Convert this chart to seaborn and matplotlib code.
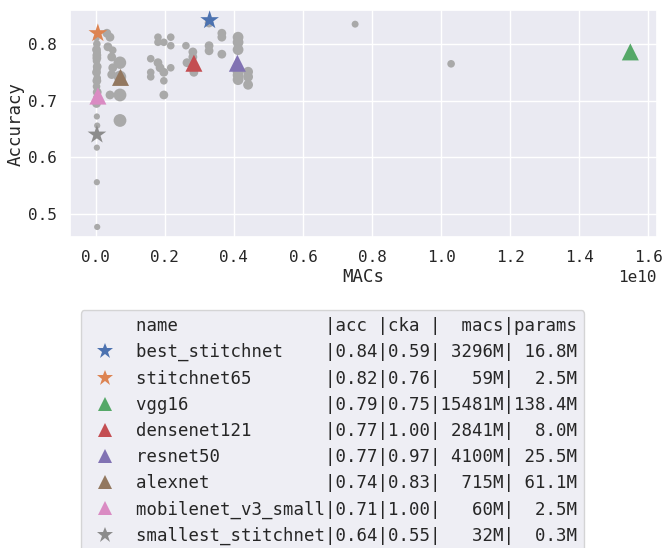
import numpy as np
import pandas as pd
import matplotlib
matplotlib.use("Agg")
import matplotlib.pyplot as plt
from matplotlib.lines import Line2D
import seaborn as sns

# ---- gray candidate networks (MACs in units of 1e10, accuracy, relative size) ----
gray_macs = [0.002, 0.003, 0.002, 0.004, 0.003, 0.002, 0.004, 0.003, 0.002, 0.004,
             0.003, 0.002, 0.004, 0.003, 0.002, 0.003, 0.004, 0.003, 0.003, 0.004, 0.003,
             0.032, 0.041, 0.035, 0.049, 0.046, 0.064, 0.070, 0.049, 0.046, 0.070, 0.041,
             0.070, 0.070,
             0.180, 0.180, 0.197, 0.217, 0.217, 0.159, 0.180, 0.186, 0.159, 0.159, 0.197,
             0.217, 0.197, 0.197, 0.261, 0.281, 0.281, 0.264, 0.284, 0.328, 0.328, 0.328,
             0.365, 0.365, 0.365, 0.412, 0.412, 0.412, 0.441, 0.441, 0.441, 0.412, 0.412,
             0.412, 0.751, 1.029]
gray_acc = [0.810, 0.800, 0.790, 0.785, 0.775, 0.770, 0.760, 0.755, 0.750, 0.740,
            0.735, 0.725, 0.715, 0.705, 0.695, 0.672, 0.656, 0.617, 0.556, 0.477, 0.780,
            0.819, 0.812, 0.795, 0.789, 0.777, 0.767, 0.767, 0.758, 0.746, 0.742, 0.710,
            0.710, 0.665,
            0.812, 0.803, 0.803, 0.812, 0.797, 0.774, 0.767, 0.758, 0.750, 0.742, 0.750,
            0.758, 0.735, 0.710, 0.797, 0.786, 0.777, 0.767, 0.750, 0.797, 0.788, 0.837,
            0.819, 0.812, 0.782, 0.812, 0.803, 0.790, 0.751, 0.742, 0.728, 0.751, 0.737,
            0.745, 0.835, 0.765]
gray_size = [20, 30, 40, 30, 40, 30, 40, 30, 40, 30,
             40, 30, 40, 30, 40, 20, 20, 20, 20, 20, 40,
             40, 40, 40, 30, 40, 40, 80, 40, 40, 80, 40,
             85, 85,
             30, 30, 30, 30, 30, 30, 40, 40, 30, 30, 40,
             30, 30, 40, 30, 40, 40, 40, 40, 40, 40, 40,
             40, 40, 40, 60, 60, 60, 50, 50, 50, 60, 60,
             60, 25, 30]

# ---- highlighted reference networks ----
names = ["best_stitchnet", "stitchnet65", "vgg16", "densenet121", "resnet50",
         "alexnet", "mobilenet_v3_small", "smallest_stitchnet"]
acc = [0.842, 0.819, 0.786, 0.766, 0.766, 0.741, 0.708, 0.640]
cka = [0.59, 0.76, 0.75, 1.00, 0.97, 0.83, 1.00, 0.55]
macs_m = [3296, 59, 15481, 2841, 4100, 715, 60, 32]
params_m = [16.8, 2.5, 138.4, 8.0, 25.5, 61.1, 2.5, 0.3]
markers = ["*", "*", "^", "^", "^", "^", "^", "*"]

sns.set_theme(style="darkgrid")
plt.rcParams["font.family"] = ["DejaVu Sans Mono"]

fig = plt.figure(figsize=(6.65, 5.48), dpi=100)
ax = fig.add_subplot(111)
fig.subplots_adjust(left=0.105, right=0.988, top=0.982, bottom=0.567)

gdf = pd.DataFrame({"MACs": np.array(gray_macs) * 1e10, "Accuracy": gray_acc, "sz": gray_size})
sns.scatterplot(data=gdf, x="MACs", y="Accuracy", size="sz", sizes=(20, 85),
                size_norm=(20, 85), color="darkgray", edgecolor="none",
                legend=False, ax=ax, zorder=2)

palette = sns.color_palette("deep")
colors = [palette[0], palette[1], palette[2], palette[3], palette[4], palette[5],
          palette[6], palette[7]]

handles = [Line2D([], [], linestyle="none")]
labels = [f"{'name':18s}|acc |cka |  macs|params"]
for i, n in enumerate(names):
    sub = pd.DataFrame({"MACs": [macs_m[i] * 1e6], "Accuracy": [acc[i]]})
    s = 200 if markers[i] == "*" else 150
    sns.scatterplot(data=sub, x="MACs", y="Accuracy", marker=markers[i], s=s,
                    color=colors[i], edgecolor="none", legend=False, ax=ax, zorder=3)
    handles.append(Line2D([], [], linestyle="none", marker=markers[i],
                          color=colors[i], markersize=12 if markers[i] == "*" else 10.5,
                          markeredgewidth=0))
    labels.append(f"{n:18s}|{acc[i]:.2f}|{cka[i]:.2f}|{macs_m[i]:5d}M|{params_m[i]:5.1f}M")

ax.tick_params(labelsize=11.5)
ax.set_xlabel("MACs", fontsize=12.5, labelpad=1.5)
ax.set_ylabel("Accuracy", fontsize=12.5, labelpad=2)
ax.xaxis.get_offset_text().set_fontsize(11.5)

ax.legend(handles, labels, loc="upper center", bbox_to_anchor=(0.5, 0.45),
          bbox_transform=fig.transFigure, prop={"family": "DejaVu Sans Mono", "size": 12.5},
          handletextpad=0.8, borderpad=0.4, labelspacing=0.47)

fig.savefig("out.png", dpi=100)
